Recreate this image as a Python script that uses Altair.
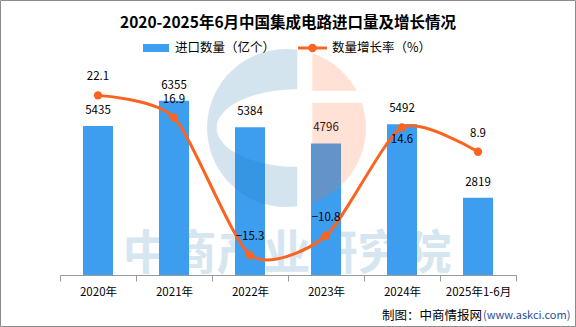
import json
import altair as alt
import pandas as pd

# ---- data ----
years = ["2020年", "2021年", "2022年", "2023年", "2024年", "2025年1-6月"]
imports = [5435, 6355, 5384, 4796, 5492, 2819]          # 进口数量（亿个）
growth = [22.1, 16.9, -15.3, -10.8, 14.6, 8.9]          # 数量增长率（%）
left_ticks = [0, 1000, 2000, 3000, 4000, 5000, 6000, 7000]
right_ticks = [-20, -15, -10, -5, 0, 5, 10, 15, 20, 25]
labels_below = ["2024年"]                                # growth labels drawn under the point

title_text = "2020-2025年6月中国集成电路进口量及增长情况"
legend_bar = "进口数量（亿个）"
legend_line = "数量增长率（%）"
source_text = "制图：中商情报网"
source_url = "(www.askci.com)"
watermark = "中商产业研究院"

df = pd.DataFrame({"year": years, "imports": imports, "growth": growth})

BLUE = "#3d9ef0"
ORANGE = "#fa6420"
GRAY = "#9a9a9a"
CJK = "Noto Sans CJK SC"
NUM = "DejaVu Sans"

W, H = 456, 192

x_enc = alt.X("year:N", sort=years, title=None,
              scale=alt.Scale(paddingInner=0, paddingOuter=0),
              axis=alt.Axis(tickBand="extent", tickSize=6, tickColor=GRAY,
                            domainColor=GRAY, labelAngle=0, labelPadding=5,
                            labelFont=CJK, labelFontSize=11.5, labelColor="#000"))

y_left = alt.Y("imports:Q", title=None,
               scale=alt.Scale(domain=[0, 7000], nice=False, zero=True),
               axis=alt.Axis(values=left_ticks, grid=False, tickSize=5, tickColor=GRAY,
                             domainColor=GRAY, labelPadding=4, labelFont=NUM,
                             labelFontSize=11.5, labelColor="#000", orient="left"))
y_left_noaxis = alt.Y("imports:Q", title=None,
                      scale=alt.Scale(domain=[0, 7000], nice=False, zero=True), axis=None)

y_right = alt.Y("growth:Q", title=None,
                scale=alt.Scale(domain=[-20, 25], nice=False, zero=False),
                axis=alt.Axis(values=right_ticks, grid=False, tickSize=5, tickColor=GRAY,
                              domainColor=GRAY, labelPadding=2, labelFont=NUM,
                              labelFontSize=11.5, labelColor="#000", orient="right"))
y_right_noaxis = alt.Y("growth:Q", title=None,
                       scale=alt.Scale(domain=[-20, 25], nice=False, zero=False), axis=None)

base = alt.Chart(df)

# watermark text (behind bars)
wm = alt.Chart(pd.DataFrame({"t": [watermark]})).mark_text(
    font=CJK, fontSize=47, fontWeight="bold", color="#d6e6f1",
    align="center", baseline="middle"
).encode(text="t:N", x=alt.value(227), y=alt.value(172))

bars = base.mark_bar(size=30, color=BLUE).encode(x=x_enc, y=y_left)
bar_labels = base.mark_text(font=CJK, fontSize=11.5, color="#000", dy=-15,
                            baseline="middle").encode(
    x=alt.X("year:N", sort=years), y=y_left_noaxis, text="imports:Q")
left_layer = alt.layer(bars, bar_labels)

# logo overlay (semi-transparent)
blue_path = ("M 0.13 -0.99 A 1 1 0 1 0 0.13 0.99 L 0.13 0.49 "
             "A 1.02 0.49 0 0 1 0.13 -0.49 Z")
orange_path = ("M 0.32 -0.947 A 1 1 0 0 1 0.883 -0.47 L 0.32 -0.47 Z "
               "M 0.32 -0.32 L 0.947 -0.32 A 1 1 0 0 1 0.32 0.947 Z")
logo_df = pd.DataFrame({"k": [0]})
logo_blue = alt.Chart(logo_df).mark_point(
    shape=blue_path, filled=True, fill="#2378af", fillOpacity=0.2, strokeWidth=0,
    size=24964).encode(x=alt.value(227), y=alt.value(45))
logo_orange = alt.Chart(logo_df).mark_point(
    shape=orange_path, filled=True, fill="#ff692d", fillOpacity=0.2, strokeWidth=0,
    size=24964).encode(x=alt.value(227), y=alt.value(45))

line = base.mark_line(interpolate="cardinal", tension=0.3, strokeWidth=3, color=ORANGE).encode(
    x=alt.X("year:N", sort=years), y=y_right)
pts = base.mark_point(filled=True, size=70, color=ORANGE, opacity=1).encode(
    x=alt.X("year:N", sort=years), y=y_right_noaxis)
below_list = json.dumps(labels_below, ensure_ascii=False)
g_above = base.transform_filter(f"indexof({below_list}, datum.year) < 0").mark_text(
    font=CJK, fontSize=11.5, color="#000", dy=-18, baseline="middle").encode(
    x=alt.X("year:N", sort=years), y=y_right_noaxis, text=alt.Text("growth:Q", format=".1f"))
g_below = base.transform_filter(f"indexof({below_list}, datum.year) >= 0").mark_text(
    font=CJK, fontSize=11.5, color="#000", dy=13, baseline="middle").encode(
    x=alt.X("year:N", sort=years), y=y_right_noaxis, text=alt.Text("growth:Q", format=".1f"))
right_layer = alt.layer(line, pts, g_above, g_below)

one = pd.DataFrame({"k": [0]})
title = alt.Chart(pd.DataFrame({"t": [title_text]})).mark_text(
    font=CJK, fontSize=15.5, fontWeight="bold", color="#000",
    align="center", baseline="middle").encode(text="t:N", x=alt.value(228), y=alt.value(-60))

leg_rect = alt.Chart(one).mark_rect(color=BLUE).encode(
    x=alt.value(83), x2=alt.value(109), y=alt.value(-39), y2=alt.value(-31))
leg_text1 = alt.Chart(pd.DataFrame({"t": [legend_bar]})).mark_text(
    font=CJK, fontSize=12.5, color="#000", align="left", baseline="middle").encode(
    text="t:N", x=alt.value(115), y=alt.value(-35))
leg_line = alt.Chart(one).mark_rule(color=ORANGE, strokeWidth=3).encode(
    x=alt.value(238), x2=alt.value(267), y=alt.value(-35))
leg_dot = alt.Chart(one).mark_point(filled=True, size=70, color=ORANGE, opacity=1).encode(
    x=alt.value(252.5), y=alt.value(-35))
leg_text2 = alt.Chart(pd.DataFrame({"t": [legend_line]})).mark_text(
    font=CJK, fontSize=12.5, color="#000", align="left", baseline="middle").encode(
    text="t:N", x=alt.value(272), y=alt.value(-35))

src1 = alt.Chart(pd.DataFrame({"t": [source_text]})).mark_text(
    font=CJK, fontSize=12.5, color="#000", align="right", baseline="middle").encode(
    text="t:N", x=alt.value(422), y=alt.value(233))
src2 = alt.Chart(pd.DataFrame({"t": [source_url]})).mark_text(
    font=CJK, fontSize=11, color="#1f4f9c", align="left", baseline="middle").encode(
    text="t:N", x=alt.value(423), y=alt.value(233))

border = alt.Chart(one).mark_rect(fill="transparent", stroke="#8c8c8c", strokeWidth=1).encode(
    x=alt.value(-59.5), x2=alt.value(515.5), y=alt.value(-82.5), y2=alt.value(243.5))

chart = alt.layer(
    wm, left_layer, logo_blue, logo_orange, right_layer,
    title, leg_rect, leg_text1, leg_line, leg_dot, leg_text2, src1, src2, border
).resolve_scale(y="independent").properties(
    width=W, height=H,
    autosize=alt.AutoSizeParams(type="none"),
    padding={"left": 60, "top": 83, "right": 60, "bottom": 52},
    background="white",
).configure_view(strokeWidth=0)

chart.save("out.html", embed_options={"renderer": "svg", "actions": False})
